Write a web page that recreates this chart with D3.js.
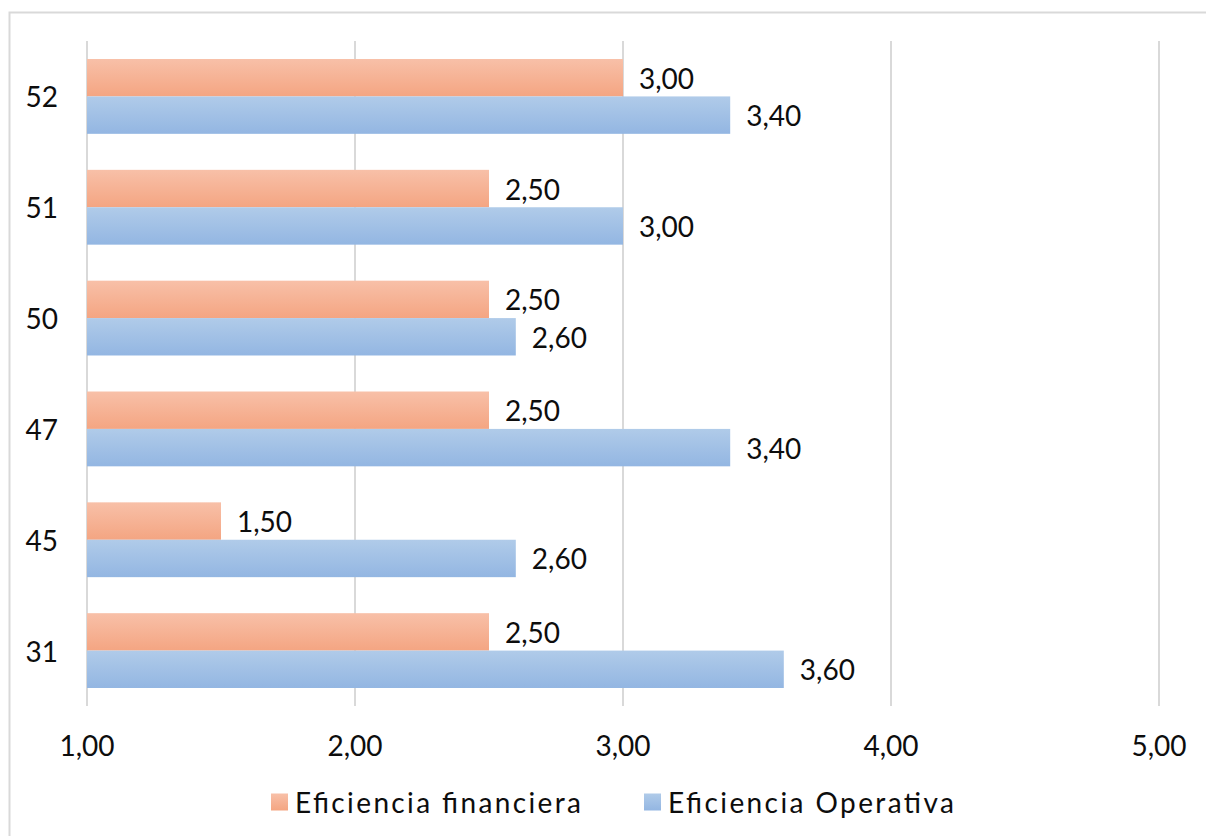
<!DOCTYPE html>
<html>
<head>
<meta charset="utf-8">
<script src="https://cdn.jsdelivr.net/npm/d3@7"></script>
<style>
  body { margin: 0; background: #fff; }
  svg text { font-family: "Century Gothic", Lato, "DejaVu Sans", sans-serif; font-weight: 400; fill: #0d0d0d; }
</style>
</head>
<body>
<svg width="1206" height="836"></svg>
<script>
// datos del gráfico
const categorias = ['52', '51', '50', '47', '45', '31']
const series = ['Eficiencia financiera', 'Eficiencia Operativa']
const financiera = [3.00, 2.50, 2.50, 2.50, 1.50, 2.50]
const operativa = [3.40, 3.00, 2.60, 3.40, 2.60, 3.60]
const ticksX = [1, 2, 3, 4, 5]

const svg = d3.select('svg')
const fmt = d => d3.format('.2f')(d).replace('.', ',')

// borde exterior
svg.append('rect')
  .attr('x', 9.5).attr('y', 12.5)
  .attr('width', 1206).attr('height', 836)
  .attr('fill', 'none').attr('stroke', '#d9d9d9').attr('stroke-width', 2)

// degradados
const defs = svg.append('defs')
const grads = [['gFin', '#f8c0a8', '#f4a582'], ['gOp', '#b0cbe9', '#93b6e2']]
grads.forEach(g => {
  const lg = defs.append('linearGradient').attr('id', g[0])
    .attr('x1', 0).attr('y1', 0).attr('x2', 0).attr('y2', 1)
  lg.append('stop').attr('offset', '0%').attr('stop-color', g[1])
  lg.append('stop').attr('offset', '100%').attr('stop-color', g[2])
})

const x = d3.scaleLinear().domain([1, 5]).range([87, 1159])
const y = d3.scaleBand().domain(categorias).range([41, 706])
  .paddingInner(0.325).paddingOuter(0.1625)
const ySub = d3.scaleBand().domain(series).range([0, y.bandwidth()])

// líneas de cuadrícula
svg.append('g')
  .selectAll('line')
  .data(ticksX)
  .join('line')
  .attr('x1', d => x(d)).attr('x2', d => x(d))
  .attr('y1', 41).attr('y2', 706)
  .attr('stroke', '#d9d9d9').attr('stroke-width', 2)

// etiquetas eje x
svg.append('g')
  .selectAll('text')
  .data(ticksX)
  .join('text')
  .attr('x', d => x(d)).attr('y', 745)
  .attr('text-anchor', 'middle').attr('dominant-baseline', 'central')
  .attr('font-size', 28)
  .text(d => fmt(d))

// etiquetas eje y
svg.append('g')
  .selectAll('text')
  .data(categorias)
  .join('text')
  .attr('x', 58).attr('y', d => y(d) + y.bandwidth() / 2)
  .attr('text-anchor', 'end').attr('dominant-baseline', 'central')
  .attr('font-size', 28)
  .text(d => d)

const filas = categorias.map((c, i) => ({ c, v: [financiera[i], operativa[i]] }))
const fills = ['url(#gFin)', 'url(#gOp)']

const grupo = svg.append('g')
  .selectAll('g')
  .data(filas)
  .join('g')
  .attr('transform', d => `translate(0,${y(d.c)})`)

grupo.selectAll('rect')
  .data(d => d.v.map((v, j) => ({ v, s: series[j], j })))
  .join('rect')
  .attr('x', x(1))
  .attr('y', d => ySub(d.s))
  .attr('width', d => x(d.v) - x(1))
  .attr('height', ySub.bandwidth())
  .attr('fill', d => fills[d.j])

grupo.selectAll('text')
  .data(d => d.v.map((v, j) => ({ v, s: series[j] })))
  .join('text')
  .attr('x', d => x(d.v) + 16)
  .attr('y', d => ySub(d.s) + ySub.bandwidth() / 2)
  .attr('dominant-baseline', 'central')
  .attr('font-size', 28)
  .text(d => fmt(d.v))

// leyenda
const leyX = [271, 644]
const leyenda = svg.append('g')
  .selectAll('g')
  .data(series)
  .join('g')
  .attr('transform', (d, i) => `translate(${leyX[i]},802)`)

leyenda.append('rect')
  .attr('x', 0).attr('y', -8.5)
  .attr('width', 17).attr('height', 17)
  .attr('fill', (d, i) => fills[i])

leyenda.append('text')
  .attr('x', 24).attr('y', 0)
  .attr('dominant-baseline', 'central')
  .attr('font-size', 28)
  .attr('textLength', 286)
  .attr('lengthAdjust', 'spacing')
  .text(d => d)
</script>
</body>
</html>
